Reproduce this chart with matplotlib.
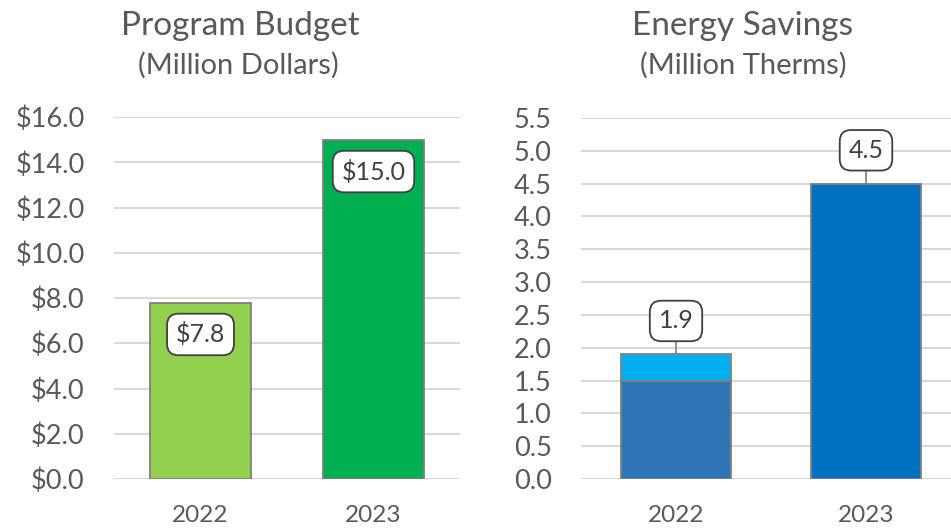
import numpy as np
import matplotlib
matplotlib.use("Agg")
import matplotlib.pyplot as plt

plt.rcParams['font.family'] = ['Lato', 'DejaVu Sans']

years = ["2022", "2023"]
budget = [7.8, 15.0]
budget_labels = ["$7.8", "$15.0"]
savings_base = [1.5, 4.5]
savings_extra = [0.4, 0.0]
savings_labels = ["1.9", "4.5"]

txt = '#595959'
grid = '#D9D9D9'
edge = '#7F7F7F'

fig = plt.figure(figsize=(9.51, 5.31), dpi=100)
ax1 = fig.add_axes([114/951, 1-479/531, 346/951, (479-117)/531])
ax2 = fig.add_axes([581/951, 1-479/531, 380/951, (479-118)/531])

x = np.arange(len(years))

def style(ax, ticks, fmt):
    ax.set_yticks(ticks)
    ax.set_yticklabels([fmt.format(t) for t in ticks])
    ax.set_xticks(x)
    ax.set_xticklabels(years)
    for s in ax.spines.values():
        s.set_visible(False)
    ax.grid(axis='y', color=grid, lw=1.5)
    ax.set_axisbelow(True)
    ax.tick_params(axis='y', length=0, pad=21, labelsize=19.5, labelcolor=txt)
    ax.tick_params(axis='x', length=0, pad=19, labelsize=17.5, labelcolor=txt)
    ax.set_xlim(-0.5, 1.5)

box = dict(boxstyle='round,pad=0.35,rounding_size=0.45', fc='white', ec='#404040', lw=1.3)

# left chart
ax1.bar(x, budget, width=0.58, color=['#92D050', '#00B050'], edgecolor=edge, lw=1.3)
ax1.set_ylim(0, 16)
style(ax1, np.arange(0, 16.1, 2), "${:.1f}")
for i, v in enumerate(budget):
    ax1.annotate(budget_labels[i], (x[i], v), xytext=(0, -23), textcoords='offset points',
                 ha='center', va='center', fontsize=18, color='#404040', bbox=box)

# right chart
ax2.bar(x, savings_base, width=0.575, color=['#2E75B6', '#0070C0'], edgecolor=edge, lw=1.3)
ax2.bar(x[:1], savings_extra[:1], bottom=savings_base[:1], width=0.575, color='#00B0F0',
        edgecolor=edge, lw=1.3)
ax2.set_ylim(0, 5.5)
style(ax2, np.arange(0, 5.51, 0.5), "{:.1f}")
totals = [b + e for b, e in zip(savings_base, savings_extra)]
for i, v in enumerate(totals):
    ax2.annotate(savings_labels[i], (x[i], v), xytext=(0, 24), textcoords='offset points',
                 ha='center', va='center', fontsize=18, color='#404040', bbox=box,
                 arrowprops=dict(arrowstyle='-', color=edge, lw=1.2, shrinkA=0, shrinkB=0))

fig.text(240/951, 1-26/531, "Program Budget", ha='center', va='center', fontsize=24, color=txt)
fig.text(238/951, 1-65/531, "(Million Dollars)", ha='center', va='center', fontsize=21, color=txt)
fig.text(743/951, 1-26/531, "Energy Savings", ha='center', va='center', fontsize=24, color=txt)
fig.text(743/951, 1-65/531, "(Million Therms)", ha='center', va='center', fontsize=21, color=txt)

fig.savefig("out.png", dpi=100)
